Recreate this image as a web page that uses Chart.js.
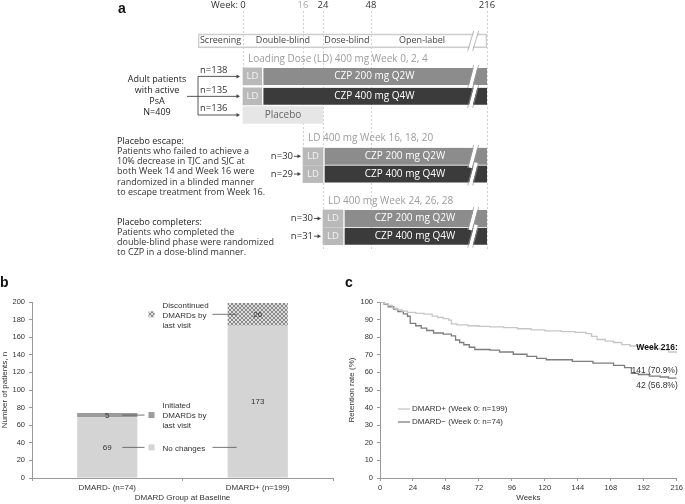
<!DOCTYPE html>
<html>
<head>
<meta charset="utf-8">
<script src="https://cdn.jsdelivr.net/npm/chart.js@4.4.1/dist/chart.umd.min.js"></script>
<style>
  body { margin: 0; background: #fff; }
  .panel { position: absolute; }
  #panelA { left: 0; top: 0; width: 685px; height: 272px; }
  #panelB { left: 0; top: 272px; width: 340px; height: 232px; }
  #panelC { left: 340px; top: 272px; width: 345px; height: 232px; }
</style>
</head>
<body>
<div class="panel" id="panelA"><canvas id="design"></canvas></div>
<div class="panel" id="panelB"><canvas id="dmards"></canvas></div>
<div class="panel" id="panelC"><canvas id="retention"></canvas></div>
<script>
// ---------- panel a: study design ----------
const weekTicks = [0, 16, 24, 48, 216];
const phases = ['Screening', 'Double-blind', 'Dose-blind', 'Open-label'];
const phaseStart = [-5, 0, 24, 48];
const phaseEnd = [0, 24, 48, 216];
const breakWeek = 196;

const arms = ['CZP 200 mg Q2W', 'CZP 400 mg Q4W'];
const ldStart = [0, 16, 24];
const ldEnd = [5, 24, 34];
const ldNotes = ['Loading Dose (LD) 400 mg Week 0, 2, 4', 'LD 400 mg Week 16, 18, 20', 'LD 400 mg Week 24, 26, 28'];
const nQ2W = [138, 30, 30];
const nQ4W = [135, 29, 31];
const nPlacebo = 136;
const placeboEnd = 24;
const nTotal = 409;

// diagram row of each line, top to bottom
const noteRow = [2.1, 11, 18];
const q2wRow = [4, 13, 20];
const q4wRow = [6.25, 15, 22];
const placeboRow = 8.35;

const enrolText = ['Adult patients', 'with active', 'PsA', 'N=' + nTotal];
const escapeText = ['Placebo escape:', 'Patients who failed to achieve a', '10% decrease in TJC and SJC at',
  'both Week 14 and Week 16 were', 'randomized in a blinded manner', 'to escape treatment from Week 16.'];
const completerText = ['Placebo completers:', 'Patients who completed the',
  'double-blind phase were randomized', 'to CZP in a dose-blind manner.'];

// ---------- panel b: DMARD changes ----------
const dmardGroups = ['DMARD- (n=74)', 'DMARD+ (n=199)'];
const noChange = [69, 173];
const initiated = [5, 0];
const discontinued = [0, 26];

// ---------- panel c: retention ----------
const weeksPlus = [0, 3, 6, 9, 12, 16, 20, 26, 32, 38, 42, 46, 50, 52, 56, 64, 72, 80, 90, 100, 110, 120,
  132, 142, 150, 154, 158, 164, 170, 176, 182, 190, 198, 204, 210, 216];
const retentionPlus = [100, 99, 98, 96.5, 95.5, 94.8, 94.1, 93.5, 93.1, 92, 91.2, 90.5, 89.7, 87.6, 87, 86.5,
  86.2, 85.9, 85.4, 84.8, 84.2, 83.6, 83.2, 82.7, 82, 80.5, 78.7, 77.8, 77, 75.8, 75, 74.4, 73.5, 72.8, 71.6, 70.9];
const weeksMinus = [0, 3, 6, 10, 13, 17, 20, 22, 26, 30, 34, 39, 46, 52, 55, 58, 61, 65, 69, 80, 87, 97, 107,
  114, 121, 140, 155, 170, 178, 183, 188, 196, 204, 210, 216];
const retentionMinus = [100, 98.6, 97.3, 95.9, 94.6, 93.2, 91.9, 87.8, 86.5, 85.1, 83.8, 82.4, 81.8, 80.8, 78.4,
  77, 75.7, 74.3, 73, 72.6, 71.6, 70.3, 69.1, 68, 67.2, 66.3, 65.3, 64, 62.7, 59.5, 58.8, 57.9, 57.4, 56.8, 56.8];
const endCount = [141, 42];

Chart.defaults.font.family = '"Liberation Sans", Arial, sans-serif';
Chart.defaults.color = '#333';
Chart.defaults.animation = false;
Chart.defaults.plugins.legend.display = false;
Chart.defaults.plugins.tooltip.enabled = false;

const SANS = '"Open Sans", sans-serif';
const ARIAL = '"Liberation Sans", Arial, sans-serif';

function write(ctx, text, x, y, font, color, align) {
  ctx.font = font;
  ctx.fillStyle = color;
  ctx.textAlign = align || 'left';
  ctx.textBaseline = 'middle';
  ctx.fillText(text, x, y);
}

function line(ctx, x1, y1, x2, y2) {
  ctx.beginPath();
  ctx.moveTo(x1, y1);
  ctx.lineTo(x2, y2);
  ctx.stroke();
}

function arrow(ctx, x1, x2, y) {
  ctx.strokeStyle = '#444';
  ctx.fillStyle = '#444';
  ctx.lineWidth = 0.9;
  line(ctx, x1, y, x2 - 3, y);
  ctx.beginPath();
  ctx.moveTo(x2, y);
  ctx.lineTo(x2 - 3.5, y - 2);
  ctx.lineTo(x2 - 3.5, y + 2);
  ctx.closePath();
  ctx.fill();
}

// linear scale whose segments between break weeks get their own share of the width
class BreakScale extends Chart.LinearScale {
  static id = 'break';
  static defaults = {};
  getPixelForValue(value) {
    const b = this.options.breaks, s = this.options.stops;
    let i = 0;
    while (i < b.length - 2 && value > b[i + 1]) i++;
    const t = s[i] + (value - b[i]) / (b[i + 1] - b[i]) * (s[i + 1] - s[i]);
    return this.left + t * (this.right - this.left);
  }
  getValueForPixel(pixel) {
    const b = this.options.breaks, s = this.options.stops;
    const t = (pixel - this.left) / (this.right - this.left);
    let i = 0;
    while (i < s.length - 2 && t > s[i + 1]) i++;
    return b[i] + (t - s[i]) / (s[i + 1] - s[i]) * (b[i + 1] - b[i]);
  }
}
Chart.register(BreakScale);

const designNotes = {
  id: 'designNotes',
  beforeDatasetsDraw(chart) {
    const {ctx, scales: {x, y}} = chart;
    // dashed week lines stop at the last bar they reach
    const lineEnd = [placeboRow, q4wRow[1], 23.6, 23.6, 23.6];
    ctx.save();
    ctx.strokeStyle = '#c6c6c6';
    ctx.lineWidth = 0.8;
    ctx.setLineDash([2, 2]);
    weekTicks.forEach((w, i) => {
      const px = Math.round(x.getPixelForValue(w)) + 0.5;
      line(ctx, px, 11, px, y.getPixelForValue(lineEnd[i]));
    });
    ctx.restore();
  },
  afterDatasetsDraw(chart) {
    const {ctx, scales: {x, y}} = chart;
    const X = w => x.getPixelForValue(w);
    const Y = r => y.getPixelForValue(r);
    ctx.save();

    // week axis
    write(ctx, 'Week:', X(0) - 5, 5, '9.5px ' + SANS, '#333', 'right');
    weekTicks.forEach(w => write(ctx, String(w), X(w), 5, '9.5px ' + SANS, w === 16 ? '#aaa' : '#333', 'center'));

    // study phases
    phases.forEach((p, i) => {
      const cx = (X(phaseStart[i]) + X(Math.min(phaseEnd[i], breakWeek))) / 2;
      write(ctx, p, cx, Y(0), '9px ' + SANS, '#444', 'center');
    });

    // labels inside bars
    chart.data.datasets.forEach((ds, di) => {
      if (!ds.texts) return;
      chart.getDatasetMeta(di).data.forEach((bar, i) => {
        const {x: bx, y: by, base} = bar.getProps(['x', 'y', 'base'], true);
        write(ctx, ds.texts[i], (bx + base) / 2, by, (ds.texts[i] === 'LD' ? '9.5px ' : '10px ') + SANS, ds.textColor, 'center');
      });
    });

    // axis break marks
    const bx = X(breakWeek);
    ctx.setLineDash([]);
    [0, ...q2wRow, ...q4wRow].forEach(r => {
      const cy = Y(r), h = (r === 0 ? 7 : 8.5) + 3;
      ctx.strokeStyle = '#fff';
      ctx.lineWidth = 3.5;
      line(ctx, bx - 3, cy + h, bx + 3, cy - h);
      ctx.strokeStyle = '#999';
      ctx.lineWidth = 0.7;
      line(ctx, bx - 5.5, cy + h, bx + 0.5, cy - h);
      line(ctx, bx - 0.5, cy + h, bx + 5.5, cy - h);
    });

    // loading dose notes
    ldNotes.forEach((t, i) => write(ctx, t, X(ldStart[i]) + 5, Y(noteRow[i]), '10px ' + SANS, '#9c9c9c'));

    // randomisation bracket
    const bk = X(phaseStart[0]);
    const rows0 = [q2wRow[0], q4wRow[0], placeboRow];
    const n0 = [nQ2W[0], nQ4W[0], nPlacebo];
    ctx.strokeStyle = '#444';
    ctx.lineWidth = 0.9;
    line(ctx, bk, Y(rows0[0]), bk, Y(rows0[2]));
    line(ctx, bk - 11, Y(rows0[1]), bk, Y(rows0[1]));
    rows0.forEach((r, i) => {
      arrow(ctx, bk, X(0) - 3, Y(r));
      write(ctx, 'n=' + n0[i], bk + 2, Y(r) - 6.5, '9.5px ' + SANS, '#333');
    });
    enrolText.forEach((t, i) => write(ctx, t, 157, Y(rows0[1]) + (i - 1.5) * 11, '9px ' + SANS, '#222', 'center'));

    // escape and completer arrows
    [1, 2].forEach(k => {
      const lx = X(ldStart[k]);
      [[q2wRow[k], nQ2W[k]], [q4wRow[k], nQ4W[k]]].forEach(([r, n]) => {
        write(ctx, 'n=' + n, lx - 10, Y(r), '9.5px ' + SANS, '#333', 'right');
        arrow(ctx, lx - 9, lx - 2, Y(r));
      });
    });

    escapeText.forEach((t, i) => write(ctx, t, 117, 141 + i * 10.3, '9px ' + SANS, i ? '#333' : '#222'));
    completerText.forEach((t, i) => write(ctx, t, 117, 222 + i * 10.3, '9px ' + SANS, i ? '#333' : '#222'));

    write(ctx, 'a', 118, 9, 'bold 14px ' + ARIAL, '#111');
    ctx.restore();
  }
};

const rowBars = (starts, ends, rows) => rows.map((r, i) => ({x: [starts[i], ends[i]], y: r}));
const ldRows = q2wRow.flatMap((r, i) => [r, q4wRow[i]]);
const lastWeek = weekTicks[weekTicks.length - 1];
const toEnd = q2wRow.map(() => lastWeek);

new Chart(document.getElementById('design'), {
  type: 'bar',
  data: {
    datasets: [
      {label: 'Study period', stack: 'rows', data: [{x: [phaseStart[0], lastWeek], y: 0}],
        backgroundColor: 'rgba(255,255,255,0)', borderColor: '#cdcdcd', borderWidth: 1, barThickness: 14},
      {label: 'LD', stack: 'rows', data: rowBars(ldStart.flatMap(s => [s, s]), ldEnd.flatMap(e => [e, e]), ldRows),
        backgroundColor: '#b9b9b9', texts: ldRows.map(() => 'LD'), textColor: '#f4f4f4'},
      {label: arms[0], stack: 'rows', data: rowBars(ldEnd, toEnd, q2wRow), backgroundColor: '#8c8c8c',
        borderColor: '#fff', borderWidth: {left: 2}, texts: q2wRow.map(() => arms[0]), textColor: '#fff'},
      {label: arms[1], stack: 'rows', data: rowBars(ldEnd, toEnd, q4wRow), backgroundColor: '#3b3b3b',
        borderColor: '#fff', borderWidth: {left: 2}, texts: q4wRow.map(() => arms[1]), textColor: '#fff'},
      {label: 'Placebo', stack: 'rows', data: [{x: [0, placeboEnd], y: placeboRow}], backgroundColor: '#e6e6e6',
        texts: ['Placebo'], textColor: '#666'}
    ]
  },
  options: {
    indexAxis: 'y',
    responsive: true,
    maintainAspectRatio: false,
    layout: {padding: {left: 198, right: 198, top: 0, bottom: 0}},
    datasets: {bar: {barThickness: 17, borderSkipped: false}},
    scales: {
      x: {type: 'break', display: false, stacked: false, min: phaseStart[0], max: lastWeek,
        breaks: [-5, 0, 16, 24, 48, 216], stops: [0, 0.1557, 0.3633, 0.4325, 0.5986, 1]},
      y: {type: 'linear', display: false, reverse: true, min: -2.413, max: 23.84}
    }
  },
  plugins: [designNotes]
});

// ---------- panel b chart ----------
function hatch() {
  const c = document.createElement('canvas');
  c.width = c.height = 4;
  const g = c.getContext('2d');
  g.fillStyle = '#dedede';
  g.fillRect(0, 0, 4, 4);
  g.fillStyle = '#8a8a8a';
  for (let i = 0; i < 4; i++) {
    g.fillRect(i, i, 1, 1);
    g.fillRect(3 - i, i, 1, 1);
  }
  return g.createPattern(c, 'repeat');
}

const axisGrid = {drawOnChartArea: false, tickLength: 3, color: '#999'};

const dmardNotes = {
  id: 'dmardNotes',
  afterDatasetsDraw(chart) {
    const {ctx} = chart;
    const metas = chart.data.datasets.map((d, i) => chart.getDatasetMeta(i));
    const bars = metas[0].data;
    const mid = (bars[0].x + bars[1].x) / 2;
    const half = bars[0].width / 2;
    ctx.save();
    chart.data.datasets.forEach((ds, di) => {
      metas[di].data.forEach((bar, i) => {
        if (!ds.data[i]) return;
        write(ctx, String(ds.data[i]), bar.x, (bar.y + bar.base) / 2 + 0.5, '8px ' + ARIAL, '#333', 'center');
      });
    });
    chart.data.datasets.forEach((ds, di) => {
      const i = ds.data.findIndex(v => v > 0);
      const bar = metas[di].data[i];
      const cy = (bar.y + bar.base) / 2;
      ctx.fillStyle = ds.backgroundColor;
      ctx.fillRect(mid - 34, cy - 3, 6, 6);
      ds.note.forEach((t, k) => write(ctx, t, mid - 20, cy + 1 + (k - (ds.note.length - 1) / 2) * 10, '8px ' + ARIAL, '#333'));
      ctx.strokeStyle = '#555';
      ctx.lineWidth = 0.8;
      if (ds.data[0] > 0) line(ctx, bars[0].x + half - 15, cy, mid - 38, cy);
      if (ds.data[1] > 0) line(ctx, mid + 30, cy, bars[1].x - half + 9, cy);
    });
    ctx.restore();
  },
  afterDraw(chart) {
    write(chart.ctx, 'b', 0, 11, 'bold 14px ' + ARIAL, '#111');
  }
};

new Chart(document.getElementById('dmards'), {
  type: 'bar',
  data: {
    labels: dmardGroups,
    datasets: [
      {label: 'No changes', data: noChange, backgroundColor: '#d4d4d4', note: ['No changes']},
      {label: 'Initiated DMARDs by last visit', data: initiated, backgroundColor: '#9b9b9b',
        note: ['Initiated', 'DMARDs by', 'last visit']},
      {label: 'Discontinued DMARDs by last visit', data: discontinued, backgroundColor: hatch(),
        note: ['Discontinued', 'DMARDs by', 'last visit']}
    ]
  },
  options: {
    responsive: true,
    maintainAspectRatio: false,
    layout: {padding: {top: 30, right: 7, left: 0, bottom: 0}},
    datasets: {bar: {categoryPercentage: 1, barPercentage: 0.4}},
    scales: {
      x: {stacked: true, grid: {...axisGrid, offset: true}, border: {color: '#999'},
        ticks: {font: {size: 8}, padding: 2},
        title: {display: true, text: 'DMARD Group at Baseline', font: {size: 8}, padding: {top: 0, bottom: 1}},
        afterFit: s => { s.height = 26; }},
      y: {stacked: true, min: 0, max: 200, grid: axisGrid, border: {color: '#999'},
        ticks: {stepSize: 20, font: {size: 7.5}, padding: 4},
        title: {display: true, text: 'Number of patients, n', font: {size: 8}, padding: 0},
        afterFit: s => { s.width = 32; }}
    }
  },
  plugins: [dmardNotes]
});

// ---------- panel c chart ----------
const retentionNotes = {
  id: 'retentionNotes',
  afterDraw(chart) {
    const {ctx, chartArea: a, scales: {y}} = chart;
    ctx.save();
    chart.data.datasets.forEach((ds, i) => {
      const ly = a.top + 107 + i * 13;
      ctx.strokeStyle = ds.borderColor;
      ctx.lineWidth = 1.3;
      line(ctx, a.left + 18, ly, a.left + 30, ly);
      write(ctx, ds.label, a.left + 32, ly, '8px ' + ARIAL, '#333');
    });
    const ends = chart.data.datasets.map(ds => ds.data[ds.data.length - 1].y);
    const right = a.right + 1;
    const lastWk = chart.data.datasets[0].data[chart.data.datasets[0].data.length - 1].x;
    write(ctx, 'Week ' + lastWk + ':', right, y.getPixelForValue(ends[0]) - 6, 'bold 8.5px ' + ARIAL, '#111', 'right');
    const dy = [17, 7.5];
    ends.forEach((v, i) => write(ctx, endCount[i] + ' (' + v.toFixed(1) + '%)', right,
      y.getPixelForValue(v) + dy[i], '8.5px ' + ARIAL, '#333', 'right'));
    write(ctx, 'c', 5, 11, 'bold 14px ' + ARIAL, '#111');
    ctx.restore();
  }
};

new Chart(document.getElementById('retention'), {
  type: 'line',
  data: {
    datasets: [
      {label: 'DMARD+ (Week 0: n=199)', data: weeksPlus.map((w, i) => ({x: w, y: retentionPlus[i]})),
        borderColor: '#c6c6c6', borderWidth: 1.3, stepped: true, pointRadius: 0, fill: false},
      {label: 'DMARD\u2212 (Week 0: n=74)', data: weeksMinus.map((w, i) => ({x: w, y: retentionMinus[i]})),
        borderColor: '#7d7d7d', borderWidth: 1.3, stepped: true, pointRadius: 0, fill: false}
    ]
  },
  options: {
    responsive: true,
    maintainAspectRatio: false,
    layout: {padding: {top: 30, right: 8, left: 0, bottom: 0}},
    scales: {
      x: {type: 'linear', min: 0, max: 216, grid: axisGrid, border: {color: '#999'},
        ticks: {stepSize: 24, font: {size: 7.5}, padding: 2},
        title: {display: true, text: 'Weeks', font: {size: 8}, padding: {top: 0, bottom: 1}},
        afterFit: s => { s.height = 26; }},
      y: {min: 0, max: 100, grid: axisGrid, border: {color: '#999'},
        ticks: {stepSize: 10, font: {size: 7.5}, padding: 4},
        title: {display: true, text: 'Retention rate (%)', font: {size: 8}, padding: 7},
        afterFit: s => { s.width = 40; }}
    }
  },
  plugins: [retentionNotes]
});
</script>
</body>
</html>
